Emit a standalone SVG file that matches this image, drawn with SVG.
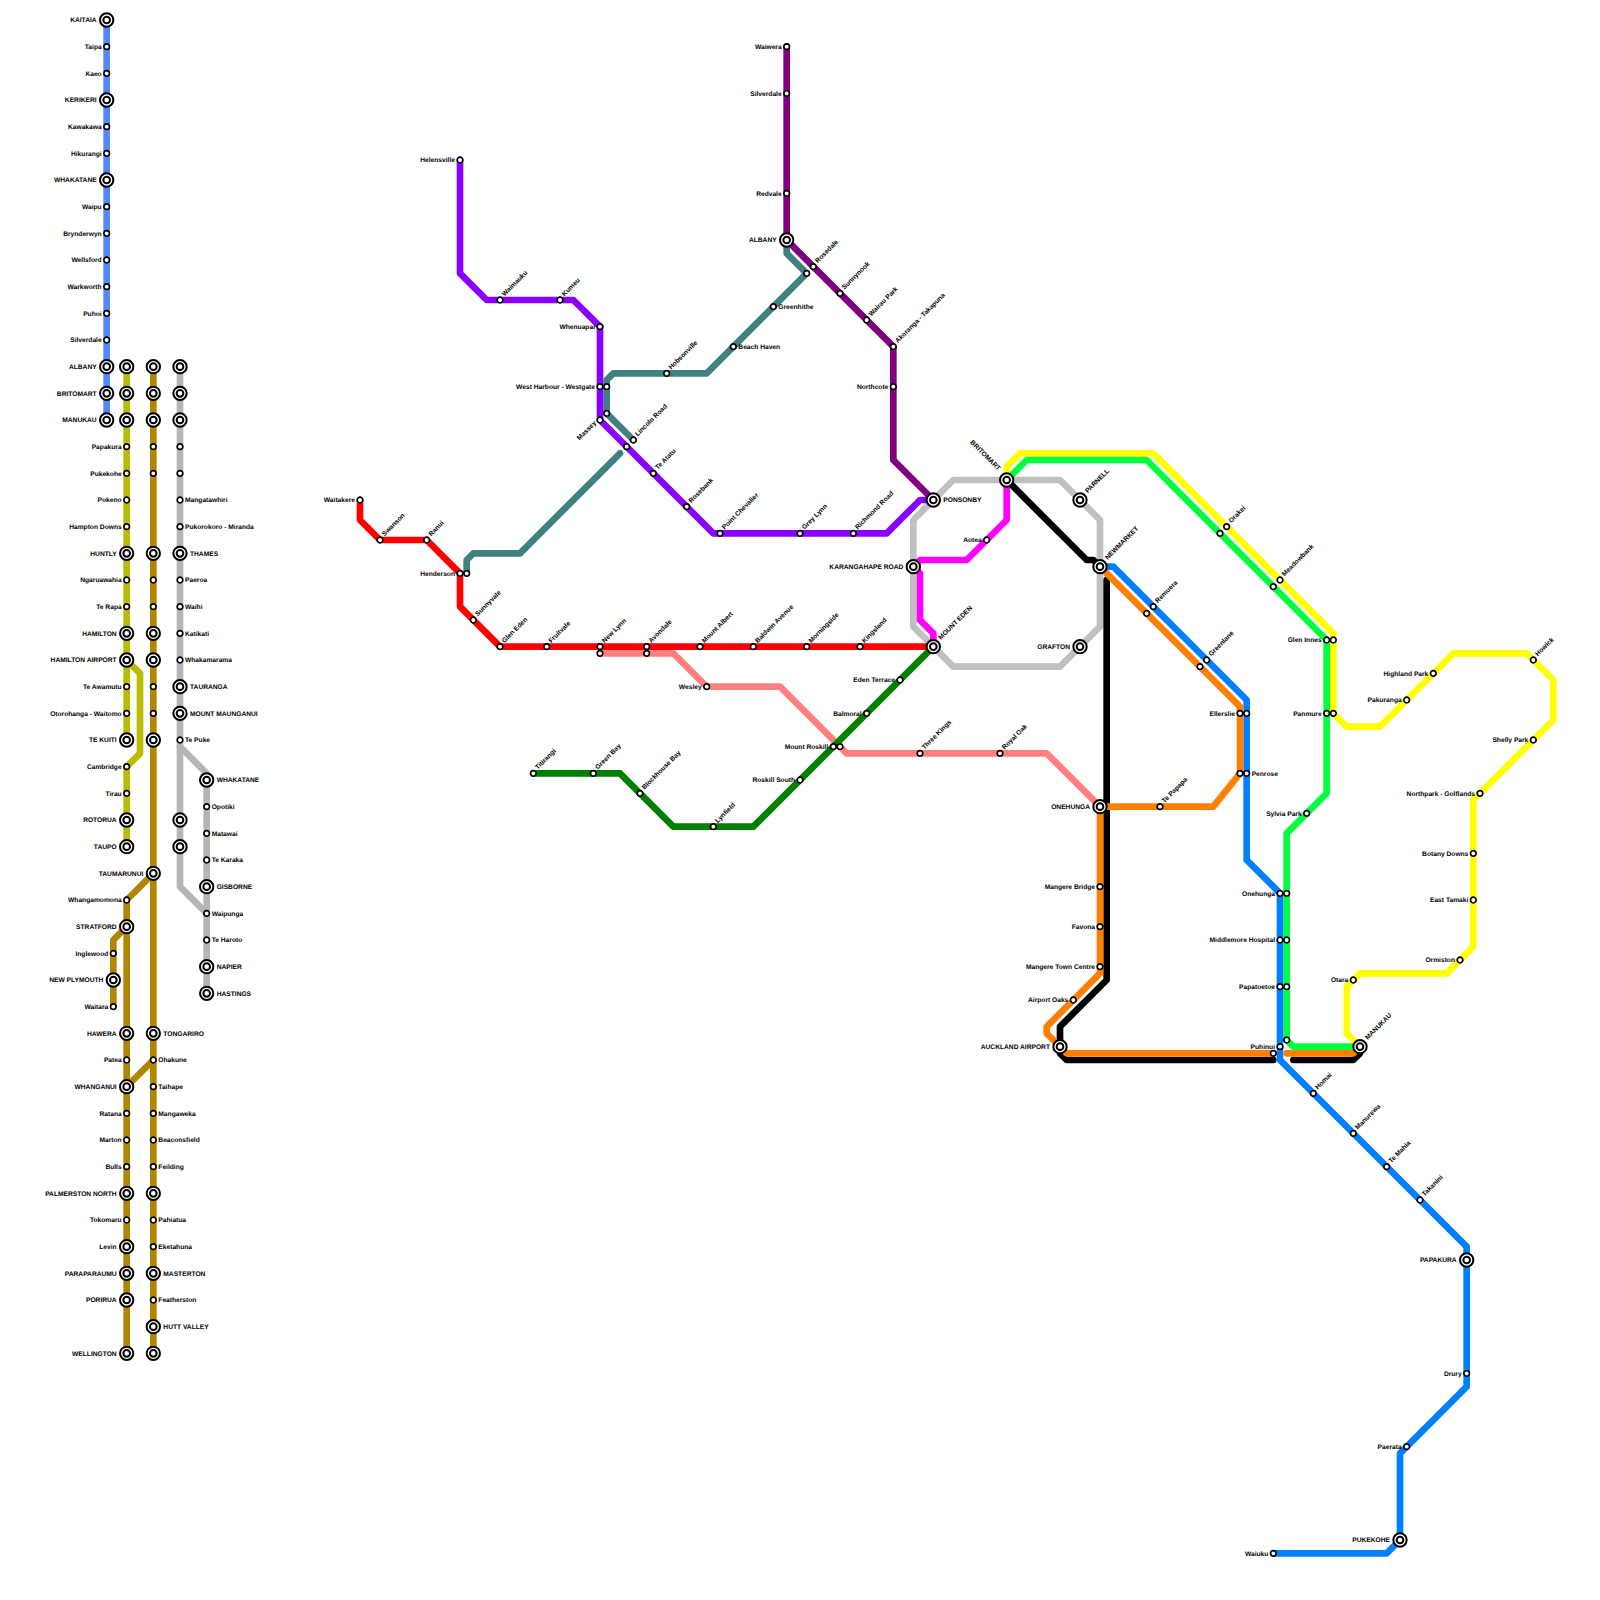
<svg xmlns="http://www.w3.org/2000/svg" xmlns:xlink="http://www.w3.org/1999/xlink" width="1600" height="1600" viewBox="0 0 1600 1600">
<style>
text{font-family:"Liberation Sans",Arial,sans-serif;font-weight:700;font-size:6.67px;fill:#000;text-rendering:geometricPrecision}
.e{text-anchor:end}
.ln{fill:none;stroke-width:6.67;stroke-linejoin:round;stroke-linecap:round}
.gray{stroke:#c0c0c0}.gr2{stroke:#b5b5b5}.blue{stroke:#5588ff}.olive{stroke:#bbbb00}.gold{stroke:#b38600}
.viol{stroke:#8800ff}.teal{stroke:#408080}.red{stroke:#ff0000}.pink{stroke:#ff8080}.green{stroke:#008000}
.dpur{stroke:#800080}.mag{stroke:#ff00ff}.black{stroke:#000}.or{stroke:#ff8000}.sky{stroke:#0080ff}.lime{stroke:#00ff40}.yel{stroke:#ffff00}
</style>
<defs>
<g id="B"><circle r="6.67" fill="#fff" stroke="#000" stroke-width="2"/><circle r="3.33" fill="#fff" stroke="#000" stroke-width="2"/></g>
<circle id="s" r="2.8" fill="#fff" stroke="#000" stroke-width="1.7"/>
</defs>
<g id="connectors">
<path class="ln blue" d="M106.67 20V420"/>
<path class="ln olive" d="M126.67 366.67V740"/>
<path class="ln olive" d="M126.67 660L140 673.33V753.33L126.67 766.67V846.67"/>
<path class="ln gold" d="M153.33 366.67V1353.33"/>
<path class="ln gold" d="M153.33 873.33L126.67 900V1353.33"/>
<path class="ln gold" d="M126.67 926.67L113.33 940V1006.67"/>
<path class="ln gold" d="M126.67 1086.67L153.33 1060"/>
<path class="ln gr2" d="M180 366.67V886.67L206.67 913.33V993.33"/>
<path class="ln gr2" d="M180 746.67L206.67 773.33V913.33"/>
<path class="ln gray" d="M933.33 500L953.33 480H1060L1100 520V626.67L1060 666.67H953.33L913.33 626.67V520Z"/>
<path class="ln teal" d="M786.67 240V253.33L806.67 273.33L706.67 373.33H613.33L606.67 380V413.33L633.33 440"/>
<path class="ln teal" d="M620 453.33L520 553.33H473.33L466.67 560V573.33"/>
<path class="ln viol" d="M460 160V273.33L486.67 300H573.33L600 326.67V420L713.33 533.33H886.67L920 500H933.33"/>
<path class="ln dpur" d="M786.67 46.67V240L893.33 346.67V460L933.33 500"/>
<path class="ln pink" d="M600 653.33H673.33L706.67 686.67H780L846.67 753.33H1046.67L1100 806.67"/>
<path class="ln red" d="M360 500V520L380 540H426.67L460 573.33V606.67L500 646.67H933.33"/>
<path class="ln green" d="M533.33 773.33H620L673.33 826.67H753.33L933.33 646.67"/>
<path class="ln mag" d="M1006.67 480V520L966.67 560H920L913.33 566.67L920 573.33V620L933.33 633.33V646.67"/>
<path class="ln yel" d="M1006.67 480V466.67L1020 453.33H1153.33L1333.33 633.33V713.33L1346.67 726.67H1380L1453.33 653.33H1526.67L1553.33 680V720L1473.33 800V946.67L1446.67 973.33H1360L1346.67 986.67V1033.33L1360 1046.67"/>
<path class="ln lime" d="M1006.67 480L1026.67 460H1146.67L1326.67 640V793.33L1286.67 833.33V1040L1293.33 1046.67H1360"/>
<path class="ln black" d="M1006.67 480L1086.67 560H1093.33L1100 566.67"/>
<path class="ln black" d="M1106.67 580V980L1060 1026.67V1053.33L1066.67 1060H1273.33"/>
<path class="ln black" d="M1293.33 1060H1353.33L1360 1053.33V1046.67"/>
<path class="ln sky" d="M1100 566.67H1113.33L1246.67 700V860L1280 893.33V1060L1466.67 1246.67V1386.67L1400 1453.33V1540L1386.67 1553.33H1273.33"/>
<path class="ln or" d="M1100 566.67L1240 706.67V773.33L1213.33 806.67H1100V973.33L1046.67 1026.67V1033.33L1060 1046.67L1066.67 1053.33H1273.33"/>
<path class="ln or" d="M1286.67 1053.33H1353.33L1360 1046.67"/>
</g>
<g id="nodes">
<g id="a01"><use href="#B" x="106.67" y="20"/><text class="e" x="96.67" y="22.3">KAITAIA</text></g>
<g id="a02"><use href="#s" x="106.67" y="46.67"/><text class="e" x="101.67" y="49">Taipa</text></g>
<g id="a03"><use href="#s" x="106.67" y="73.33"/><text class="e" x="101.67" y="75.6">Kaeo</text></g>
<g id="a04"><use href="#B" x="106.67" y="100"/><text class="e" x="96.67" y="102.3">KERIKERI</text></g>
<g id="a05"><use href="#s" x="106.67" y="126.67"/><text class="e" x="101.67" y="129">Kawakawa</text></g>
<g id="a06"><use href="#s" x="106.67" y="153.33"/><text class="e" x="101.67" y="155.6">Hikurangi</text></g>
<g id="a07"><use href="#B" x="106.67" y="180"/><text class="e" x="96.67" y="182.3">WHAKATANE</text></g>
<g id="a08"><use href="#s" x="106.67" y="206.67"/><text class="e" x="101.67" y="209">Waipu</text></g>
<g id="a09"><use href="#s" x="106.67" y="233.33"/><text class="e" x="101.67" y="235.6">Brynderwyn</text></g>
<g id="a10"><use href="#s" x="106.67" y="260"/><text class="e" x="101.67" y="262.3">Wellsford</text></g>
<g id="a11"><use href="#s" x="106.67" y="286.67"/><text class="e" x="101.67" y="289">Warkworth</text></g>
<g id="a12"><use href="#s" x="106.67" y="313.33"/><text class="e" x="101.67" y="315.6">Puhoi</text></g>
<g id="a13"><use href="#s" x="106.67" y="340"/><text class="e" x="101.67" y="342.3">Silverdale</text></g>
<g id="a14"><use href="#B" x="106.67" y="366.67"/><text class="e" x="96.67" y="369">ALBANY</text></g>
<g id="a15"><use href="#B" x="106.67" y="393.33"/><text class="e" x="96.67" y="395.6">BRITOMART</text></g>
<g id="a16"><use href="#B" x="106.67" y="420"/><text class="e" x="96.67" y="422.3">MANUKAU</text></g>

<g id="b01"><use href="#B" x="126.67" y="366.67"/></g>
<g id="b02"><use href="#B" x="126.67" y="393.33"/></g>
<g id="b03"><use href="#B" x="126.67" y="420"/></g>
<g id="b04"><use href="#s" x="126.67" y="446.67"/><text class="e" x="121.67" y="449">Papakura</text></g>
<g id="b05"><use href="#s" x="126.67" y="473.33"/><text class="e" x="121.67" y="475.6">Pukekohe</text></g>
<g id="b06"><use href="#s" x="126.67" y="500"/><text class="e" x="121.67" y="502.3">Pokeno</text></g>
<g id="b07"><use href="#s" x="126.67" y="526.67"/><text class="e" x="121.67" y="529">Hampton Downs</text></g>
<g id="b08"><use href="#B" x="126.67" y="553.33"/><text class="e" x="116.67" y="555.6">HUNTLY</text></g>
<g id="b09"><use href="#s" x="126.67" y="580"/><text class="e" x="121.67" y="582.3">Ngaruawahia</text></g>
<g id="b10"><use href="#s" x="126.67" y="606.67"/><text class="e" x="121.67" y="609">Te Rapa</text></g>
<g id="b11"><use href="#B" x="126.67" y="633.33"/><text class="e" x="116.67" y="635.6">HAMILTON</text></g>
<g id="b12"><use href="#B" x="126.67" y="660"/><text class="e" x="116.67" y="662.3">HAMILTON AIRPORT</text></g>
<g id="b13"><use href="#s" x="126.67" y="686.67"/><text class="e" x="121.67" y="689">Te Awamutu</text></g>
<g id="b14"><use href="#s" x="126.67" y="713.33"/><text class="e" x="121.67" y="715.6">Otorohanga - Waitomo</text></g>
<g id="b15"><use href="#B" x="126.67" y="740"/><text class="e" x="116.67" y="742.3">TE KUITI</text></g>
<g id="b16"><use href="#s" x="126.67" y="766.67"/><text class="e" x="121.67" y="769">Cambridge</text></g>
<g id="b17"><use href="#s" x="126.67" y="793.33"/><text class="e" x="121.67" y="795.6">Tirau</text></g>
<g id="b18"><use href="#B" x="126.67" y="820"/><text class="e" x="116.67" y="822.3">ROTORUA</text></g>
<g id="b19"><use href="#B" x="126.67" y="846.67"/><text class="e" x="116.67" y="849">TAUPO</text></g>

<g id="c01"><use href="#B" x="153.33" y="366.67"/></g>
<g id="c02"><use href="#B" x="153.33" y="393.33"/></g>
<g id="c03"><use href="#B" x="153.33" y="420"/></g>
<g id="c04"><use href="#s" x="153.33" y="446.67"/></g>
<g id="c05"><use href="#s" x="153.33" y="473.33"/></g>
<g id="c06"><use href="#B" x="153.33" y="553.33"/></g>
<g id="c07"><use href="#s" x="153.33" y="580"/></g>
<g id="c08"><use href="#s" x="153.33" y="606.67"/></g>
<g id="c09"><use href="#B" x="153.33" y="633.33"/></g>
<g id="c10"><use href="#B" x="153.33" y="660"/></g>
<g id="c11"><use href="#s" x="153.33" y="686.67"/></g>
<g id="c12"><use href="#s" x="153.33" y="713.33"/></g>
<g id="c13"><use href="#B" x="153.33" y="740"/></g>
<g id="c14"><use href="#B" x="153.33" y="873.33"/><text class="e" x="143.33" y="875.6">TAUMARUNUI</text></g>
<g id="c15"><use href="#B" x="153.33" y="1033.33"/><text x="163.33" y="1035.6">TONGARIRO</text></g>
<g id="c16"><use href="#s" x="153.33" y="1060"/><text x="158.33" y="1062.3">Ohakune</text></g>
<g id="c17"><use href="#s" x="153.33" y="1086.67"/><text x="158.33" y="1089">Taihape</text></g>
<g id="c18"><use href="#s" x="153.33" y="1113.33"/><text x="158.33" y="1115.6">Mangaweka</text></g>
<g id="c19"><use href="#s" x="153.33" y="1140"/><text x="158.33" y="1142.3">Beaconsfield</text></g>
<g id="c20"><use href="#s" x="153.33" y="1166.67"/><text x="158.33" y="1169">Feilding</text></g>
<g id="c21"><use href="#B" x="153.33" y="1193.33"/></g>
<g id="c22"><use href="#s" x="153.33" y="1220"/><text x="158.33" y="1222.3">Pahiatua</text></g>
<g id="c23"><use href="#s" x="153.33" y="1246.67"/><text x="158.33" y="1249">Eketahuna</text></g>
<g id="c24"><use href="#B" x="153.33" y="1273.33"/><text x="163.33" y="1275.6">MASTERTON</text></g>
<g id="c25"><use href="#s" x="153.33" y="1300"/><text x="158.33" y="1302.3">Featherston</text></g>
<g id="c26"><use href="#B" x="153.33" y="1326.67"/><text x="163.33" y="1329">HUTT VALLEY</text></g>
<g id="c27"><use href="#B" x="153.33" y="1353.33"/></g>

<g id="w01"><use href="#s" x="126.67" y="900"/><text class="e" x="121.67" y="902.3">Whangamomona</text></g>
<g id="w02"><use href="#B" x="126.67" y="926.67"/><text class="e" x="116.67" y="929">STRATFORD</text></g>
<g id="w03"><use href="#s" x="113.33" y="953.33"/><text class="e" x="108.33" y="955.6">Inglewood</text></g>
<g id="w04"><use href="#B" x="113.33" y="980"/><text class="e" x="103.33" y="982.3">NEW PLYMOUTH</text></g>
<g id="w05"><use href="#s" x="113.33" y="1006.67"/><text class="e" x="108.33" y="1009">Waitara</text></g>
<g id="w06"><use href="#B" x="126.67" y="1033.33"/><text class="e" x="116.67" y="1035.6">HAWERA</text></g>
<g id="w07"><use href="#s" x="126.67" y="1060"/><text class="e" x="121.67" y="1062.3">Patea</text></g>
<g id="w08"><use href="#B" x="126.67" y="1086.67"/><text class="e" x="116.67" y="1089">WHANGANUI</text></g>
<g id="w09"><use href="#s" x="126.67" y="1113.33"/><text class="e" x="121.67" y="1115.6">Ratana</text></g>
<g id="w10"><use href="#s" x="126.67" y="1140"/><text class="e" x="121.67" y="1142.3">Marton</text></g>
<g id="w11"><use href="#s" x="126.67" y="1166.67"/><text class="e" x="121.67" y="1169">Bulls</text></g>
<g id="w12"><use href="#B" x="126.67" y="1193.33"/><text class="e" x="116.67" y="1195.6">PALMERSTON NORTH</text></g>
<g id="w13"><use href="#s" x="126.67" y="1220"/><text class="e" x="121.67" y="1222.3">Tokomaru</text></g>
<g id="w14"><use href="#B" x="126.67" y="1246.67"/><text class="e" x="116.67" y="1249">Levin</text></g>
<g id="w15"><use href="#B" x="126.67" y="1273.33"/><text class="e" x="116.67" y="1275.6">PARAPARAUMU</text></g>
<g id="w16"><use href="#B" x="126.67" y="1300"/><text class="e" x="116.67" y="1302.3">PORIRUA</text></g>
<g id="w17"><use href="#B" x="126.67" y="1353.33"/><text class="e" x="116.67" y="1355.6">WELLINGTON</text></g>

<g id="d01"><use href="#B" x="180" y="366.67"/></g>
<g id="d02"><use href="#B" x="180" y="393.33"/></g>
<g id="d03"><use href="#B" x="180" y="420"/></g>
<g id="d04"><use href="#s" x="180" y="446.67"/></g>
<g id="d05"><use href="#s" x="180" y="473.33"/></g>
<g id="d06"><use href="#s" x="180" y="500"/><text x="185" y="502.3">Mangatawhiri</text></g>
<g id="d07"><use href="#s" x="180" y="526.67"/><text x="185" y="529">Pukorokoro - Miranda</text></g>
<g id="d08"><use href="#B" x="180" y="553.33"/><text x="190" y="555.6">THAMES</text></g>
<g id="d09"><use href="#s" x="180" y="580"/><text x="185" y="582.3">Paeroa</text></g>
<g id="d10"><use href="#s" x="180" y="606.67"/><text x="185" y="609">Waihi</text></g>
<g id="d11"><use href="#s" x="180" y="633.33"/><text x="185" y="635.6">Katikati</text></g>
<g id="d12"><use href="#s" x="180" y="660"/><text x="185" y="662.3">Whakamarama</text></g>
<g id="d13"><use href="#B" x="180" y="686.67"/><text x="190" y="689">TAURANGA</text></g>
<g id="d14"><use href="#B" x="180" y="713.33"/><text x="190" y="715.6">MOUNT MAUNGANUI</text></g>
<g id="d15"><use href="#s" x="180" y="740"/><text x="185" y="742.3">Te Puke</text></g>
<g id="d16"><use href="#B" x="180" y="820"/></g>
<g id="d17"><use href="#B" x="180" y="846.67"/></g>
<g id="e01"><use href="#B" x="206.67" y="780"/><text x="216.67" y="782.3">WHAKATANE</text></g>
<g id="e02"><use href="#s" x="206.67" y="806.67"/><text x="211.67" y="809">Opotiki</text></g>
<g id="e03"><use href="#s" x="206.67" y="833.33"/><text x="211.67" y="835.6">Matawai</text></g>
<g id="e04"><use href="#s" x="206.67" y="860"/><text x="211.67" y="862.3">Te Karaka</text></g>
<g id="e05"><use href="#B" x="206.67" y="886.67"/><text x="216.67" y="889">GISBORNE</text></g>
<g id="e06"><use href="#s" x="206.67" y="913.33"/><text x="211.67" y="915.6">Waipunga</text></g>
<g id="e07"><use href="#s" x="206.67" y="940"/><text x="211.67" y="942.3">Te Haroto</text></g>
<g id="e08"><use href="#B" x="206.67" y="966.67"/><text x="216.67" y="969">NAPIER</text></g>
<g id="e09"><use href="#B" x="206.67" y="993.33"/><text x="216.67" y="995.6">HASTINGS</text></g>

<g id="v01"><use href="#s" x="460" y="160"/><text class="e" x="455" y="162.3">Helensville</text></g>
<g id="v02"><use href="#s" x="500" y="300"/><text transform="rotate(-45 504.5 296.5)" x="504.5" y="296.5">Waimauku</text></g>
<g id="v03"><use href="#s" x="560" y="300"/><text transform="rotate(-45 564.5 296.5)" x="564.5" y="296.5">Kumeu</text></g>
<g id="v04"><use href="#s" x="600" y="326.67"/><text class="e" x="595" y="329">Whenuapai</text></g>
<g id="v05"><use href="#s" x="600" y="386.67"/><text class="e" x="595" y="389">West Harbour - Westgate</text></g>
<g id="v05b"><use href="#s" x="606.67" y="386.67"/></g>
<g id="v06b"><use href="#s" x="606.67" y="413.33"/></g>
<g id="v06"><use href="#s" x="600" y="420"/><text class="e" transform="rotate(-45 596.5 423.5)" x="596.5" y="423.5">Massey</text></g>
<g id="v07"><use href="#s" x="626.67" y="446.67"/></g>
<g id="v07b"><use href="#s" x="633.33" y="440"/><text transform="rotate(-45 637.8 436.5)" x="637.8" y="436.5">Lincoln Road</text></g>
<g id="v08"><use href="#s" x="653.33" y="473.33"/><text transform="rotate(-45 657.8 469.8)" x="657.8" y="469.8">Te Atatu</text></g>
<g id="v09"><use href="#s" x="686.67" y="506.67"/><text transform="rotate(-45 691.2 503.2)" x="691.2" y="503.2">Rosebank</text></g>
<g id="v10"><use href="#s" x="720" y="533.33"/><text transform="rotate(-45 724.5 529.8)" x="724.5" y="529.8">Point Chevalier</text></g>
<g id="v11"><use href="#s" x="800" y="533.33"/><text transform="rotate(-45 804.5 529.8)" x="804.5" y="529.8">Grey Lynn</text></g>
<g id="v12"><use href="#s" x="853.33" y="533.33"/><text transform="rotate(-45 857.8 529.8)" x="857.8" y="529.8">Richmond Road</text></g>

<g id="t01"><use href="#s" x="666.67" y="373.33"/><text transform="rotate(-45 671.2 369.8)" x="671.2" y="369.8">Hobsonville</text></g>
<g id="t02"><use href="#s" x="733.33" y="346.67"/><text x="738.33" y="349">Beach Haven</text></g>
<g id="t03"><use href="#s" x="773.33" y="306.67"/><text x="778.33" y="309">Greenhithe</text></g>
<g id="t04"><use href="#s" x="806.67" y="273.33"/></g>
<g id="t05"><use href="#s" x="460" y="573.33"/><text class="e" x="455" y="575.6">Henderson</text></g>
<g id="t06"><use href="#s" x="466.67" y="573.33"/></g>

<g id="p01"><use href="#s" x="786.67" y="46.67"/><text class="e" x="781.67" y="49">Waiwera</text></g>
<g id="p02"><use href="#s" x="786.67" y="93.33"/><text class="e" x="781.67" y="95.6">Silverdale</text></g>
<g id="p03"><use href="#s" x="786.67" y="193.33"/><text class="e" x="781.67" y="195.6">Redvale</text></g>
<g id="p04"><use href="#B" x="786.67" y="240"/><text class="e" x="776.67" y="242.3">ALBANY</text></g>
<g id="p05"><use href="#s" x="813.33" y="266.67"/><text transform="rotate(-45 817.8 263.2)" x="817.8" y="263.2">Rosedale</text></g>
<g id="p06"><use href="#s" x="840" y="293.33"/><text transform="rotate(-45 844.5 289.8)" x="844.5" y="289.8">Sunnynook</text></g>
<g id="p07"><use href="#s" x="866.67" y="320"/><text transform="rotate(-45 871.2 316.5)" x="871.2" y="316.5">Wairau Park</text></g>
<g id="p08"><use href="#s" x="893.33" y="346.67"/><text transform="rotate(-45 897.8 343.2)" x="897.8" y="343.2">Akoranga - Takapuna</text></g>
<g id="p09"><use href="#s" x="893.33" y="386.67"/><text class="e" x="888.33" y="389">Northcote</text></g>

<g id="r01"><use href="#s" x="360" y="500"/><text class="e" x="355" y="502.3">Waitakere</text></g>
<g id="r02"><use href="#s" x="380" y="540"/><text transform="rotate(-45 384.5 536.5)" x="384.5" y="536.5">Swanson</text></g>
<g id="r03"><use href="#s" x="426.67" y="540"/><text transform="rotate(-45 431.2 536.5)" x="431.2" y="536.5">Ranui</text></g>
<g id="r04"><use href="#s" x="473.33" y="620"/><text transform="rotate(-45 477.8 616.5)" x="477.8" y="616.5">Sunnyvale</text></g>
<g id="r05"><use href="#s" x="500" y="646.67"/><text transform="rotate(-45 504.5 643.2)" x="504.5" y="643.2">Glen Eden</text></g>
<g id="r06"><use href="#s" x="546.67" y="646.67"/><text transform="rotate(-45 551.2 643.2)" x="551.2" y="643.2">Fruitvale</text></g>
<g id="r07"><use href="#s" x="600" y="646.67"/><text transform="rotate(-45 604.5 643.2)" x="604.5" y="643.2">New Lynn</text></g>
<g id="r07b"><use href="#s" x="600" y="653.33"/></g>
<g id="r08"><use href="#s" x="646.67" y="646.67"/><text transform="rotate(-45 651.2 643.2)" x="651.2" y="643.2">Avondale</text></g>
<g id="r08b"><use href="#s" x="646.67" y="653.33"/></g>
<g id="r09"><use href="#s" x="700" y="646.67"/><text transform="rotate(-45 704.5 643.2)" x="704.5" y="643.2">Mount Albert</text></g>
<g id="r10"><use href="#s" x="753.33" y="646.67"/><text transform="rotate(-45 757.8 643.2)" x="757.8" y="643.2">Baldwin Avenue</text></g>
<g id="r11"><use href="#s" x="806.67" y="646.67"/><text transform="rotate(-45 811.2 643.2)" x="811.2" y="643.2">Morningside</text></g>
<g id="r12"><use href="#s" x="860" y="646.67"/><text transform="rotate(-45 864.5 643.2)" x="864.5" y="643.2">Kingsland</text></g>

<g id="k01"><use href="#s" x="706.67" y="686.67"/><text class="e" x="701.67" y="689">Wesley</text></g>
<g id="k02"><use href="#s" x="833.33" y="746.67"/><text class="e" x="828.33" y="749">Mount Roskill</text></g>
<g id="k03"><use href="#s" x="840" y="746.67"/></g>
<g id="k04"><use href="#s" x="920" y="753.33"/><text transform="rotate(-45 924.5 749.8)" x="924.5" y="749.8">Three Kings</text></g>
<g id="k05"><use href="#s" x="1000" y="753.33"/><text transform="rotate(-45 1004.5 749.8)" x="1004.5" y="749.8">Royal Oak</text></g>

<g id="g01"><use href="#s" x="533.33" y="773.33"/><text transform="rotate(-45 537.8 769.8)" x="537.8" y="769.8">Titirangi</text></g>
<g id="g02"><use href="#s" x="593.33" y="773.33"/><text transform="rotate(-45 597.8 769.8)" x="597.8" y="769.8">Green Bay</text></g>
<g id="g03"><use href="#s" x="640" y="793.33"/><text transform="rotate(-45 644.5 789.8)" x="644.5" y="789.8">Blockhouse Bay</text></g>
<g id="g04"><use href="#s" x="713.33" y="826.67"/><text transform="rotate(-45 717.8 823.2)" x="717.8" y="823.2">Lynfield</text></g>
<g id="g05"><use href="#s" x="800" y="780"/><text class="e" x="795" y="782.3">Roskill South</text></g>
<g id="g06"><use href="#s" x="866.67" y="713.33"/><text class="e" x="861.67" y="715.6">Balmoral</text></g>
<g id="g07"><use href="#s" x="900" y="680"/><text class="e" x="895" y="682.3">Eden Terrace</text></g>

<g id="m01"><use href="#B" x="933.33" y="500"/><text x="943.33" y="502.3">PONSONBY</text></g>
<g id="m02"><use href="#B" x="1006.67" y="480"/><text class="e" transform="rotate(45 998 471)" x="998" y="471">BRITOMART</text></g>
<g id="m03"><use href="#B" x="913.33" y="566.67"/><text class="e" x="903.33" y="569">KARANGAHAPE ROAD</text></g>
<g id="m04"><use href="#B" x="933.33" y="646.67"/><text transform="rotate(-45 941 640)" x="941" y="640">MOUNT EDEN</text></g>
<g id="m05"><use href="#s" x="986.67" y="540"/><text class="e" x="981.67" y="542.3">Aotea</text></g>
<g id="m06"><use href="#B" x="1080" y="500"/><text transform="rotate(-45 1087.7 493.3)" x="1087.7" y="493.3">PARNELL</text></g>
<g id="m07"><use href="#B" x="1100" y="566.67"/><text transform="rotate(-45 1107.7 560)" x="1107.7" y="560">NEWMARKET</text></g>
<g id="m08"><use href="#B" x="1080" y="646.67"/><text class="e" x="1070" y="649">GRAFTON</text></g>

<g id="o01"><use href="#s" x="1146.67" y="613.33"/></g>
<g id="o02"><use href="#s" x="1153.33" y="606.67"/><text transform="rotate(-45 1157.8 603.2)" x="1157.8" y="603.2">Remuera</text></g>
<g id="o03"><use href="#s" x="1200" y="666.67"/></g>
<g id="o04"><use href="#s" x="1206.67" y="660"/><text transform="rotate(-45 1211.2 656.5)" x="1211.2" y="656.5">Greenlane</text></g>
<g id="o05"><use href="#s" x="1240" y="713.33"/><text class="e" x="1235" y="715.6">Ellerslie</text></g>
<g id="o06"><use href="#s" x="1246.67" y="713.33"/></g>
<g id="o07"><use href="#s" x="1240" y="773.33"/></g>
<g id="o08"><use href="#s" x="1246.67" y="773.33"/><text x="1251.67" y="775.6">Penrose</text></g>
<g id="o09"><use href="#s" x="1160" y="806.67"/><text transform="rotate(-45 1164.5 803.2)" x="1164.5" y="803.2">Te Papapa</text></g>
<g id="o10"><use href="#B" x="1100" y="806.67"/><text class="e" x="1090" y="809">ONEHUNGA</text></g>
<g id="o11"><use href="#s" x="1100" y="886.67"/><text class="e" x="1095" y="889">Mangere Bridge</text></g>
<g id="o12"><use href="#s" x="1100" y="926.67"/><text class="e" x="1095" y="929">Favona</text></g>
<g id="o13"><use href="#s" x="1100" y="966.67"/><text class="e" x="1095" y="969">Mangere Town Centre</text></g>
<g id="o14"><use href="#s" x="1073.33" y="1000"/><text class="e" x="1068.33" y="1002.3">Airport Oaks</text></g>
<g id="o15"><use href="#B" x="1060" y="1046.67"/><text class="e" x="1050" y="1049">AUCKLAND AIRPORT</text></g>
<g id="o16"><use href="#s" x="1273.33" y="1053.33"/></g>

<g id="h01"><use href="#s" x="1280" y="893.33"/><text class="e" x="1275" y="895.6">Onehunga</text></g>
<g id="h02"><use href="#s" x="1286.67" y="893.33"/></g>
<g id="h03"><use href="#s" x="1280" y="940"/><text class="e" x="1275" y="942.3">Middlemore Hospital</text></g>
<g id="h04"><use href="#s" x="1286.67" y="940"/></g>
<g id="h05"><use href="#s" x="1280" y="986.67"/><text class="e" x="1275" y="989">Papatoetoe</text></g>
<g id="h06"><use href="#s" x="1286.67" y="986.67"/></g>
<g id="h07"><use href="#s" x="1286.67" y="1040"/></g>
<g id="h08"><use href="#s" x="1280" y="1046.67"/><text class="e" x="1275" y="1049">Puhinui</text></g>
<g id="h09"><use href="#s" x="1313.33" y="1093.33"/><text transform="rotate(-45 1317.8 1089.8)" x="1317.8" y="1089.8">Homai</text></g>
<g id="h10"><use href="#s" x="1353.33" y="1133.33"/><text transform="rotate(-45 1357.8 1129.8)" x="1357.8" y="1129.8">Manurewa</text></g>
<g id="h11"><use href="#s" x="1386.67" y="1166.67"/><text transform="rotate(-45 1391.2 1163.2)" x="1391.2" y="1163.2">Te Mahia</text></g>
<g id="h12"><use href="#s" x="1420" y="1200"/><text transform="rotate(-45 1424.5 1196.5)" x="1424.5" y="1196.5">Takanini</text></g>
<g id="h13"><use href="#B" x="1466.67" y="1260"/><text class="e" x="1456.67" y="1262.3">PAPAKURA</text></g>
<g id="h14"><use href="#s" x="1466.67" y="1373.33"/><text class="e" x="1461.67" y="1375.6">Drury</text></g>
<g id="h15"><use href="#s" x="1406.67" y="1446.67"/><text class="e" x="1401.67" y="1449">Paerata</text></g>
<g id="h16"><use href="#B" x="1400" y="1540"/><text class="e" x="1390" y="1542.3">PUKEKOHE</text></g>
<g id="h17"><use href="#s" x="1273.33" y="1553.33"/><text class="e" x="1268.33" y="1555.6">Waiuku</text></g>

<g id="y01"><use href="#s" x="1220" y="533.33"/></g>
<g id="y02"><use href="#s" x="1226.67" y="526.67"/><text transform="rotate(-45 1231.2 523.2)" x="1231.2" y="523.2">Orakei</text></g>
<g id="y03"><use href="#s" x="1273.33" y="586.67"/></g>
<g id="y04"><use href="#s" x="1280" y="580"/><text transform="rotate(-45 1284.5 576.5)" x="1284.5" y="576.5">Meadowbank</text></g>
<g id="y05"><use href="#s" x="1326.67" y="640"/><text class="e" x="1321.67" y="642.3">Glen Innes</text></g>
<g id="y06"><use href="#s" x="1333.33" y="640"/></g>
<g id="y07"><use href="#s" x="1326.67" y="713.33"/><text class="e" x="1321.67" y="715.6">Panmure</text></g>
<g id="y08"><use href="#s" x="1333.33" y="713.33"/></g>
<g id="y09"><use href="#s" x="1306.67" y="813.33"/><text class="e" x="1301.67" y="815.6">Sylvia Park</text></g>
<g id="y10"><use href="#s" x="1406.67" y="700"/><text class="e" x="1401.67" y="702.3">Pakuranga</text></g>
<g id="y11"><use href="#s" x="1433.33" y="673.33"/><text class="e" x="1428.33" y="675.6">Highland Park</text></g>
<g id="y12"><use href="#s" x="1533.33" y="660"/><text transform="rotate(-45 1537.8 656.5)" x="1537.8" y="656.5">Howick</text></g>
<g id="y13"><use href="#s" x="1533.33" y="740"/><text class="e" x="1528.33" y="742.3">Shelly Park</text></g>
<g id="y14"><use href="#s" x="1480" y="793.33"/><text class="e" x="1475" y="795.6">Northpark - Golflands</text></g>
<g id="y15"><use href="#s" x="1473.33" y="853.33"/><text class="e" x="1468.33" y="855.6">Botany Downs</text></g>
<g id="y16"><use href="#s" x="1473.33" y="900"/><text class="e" x="1468.33" y="902.3">East Tamaki</text></g>
<g id="y17"><use href="#s" x="1460" y="960"/><text class="e" x="1455" y="962.3">Ormiston</text></g>
<g id="y18"><use href="#s" x="1353.33" y="980"/><text class="e" x="1348.33" y="982.3">Otara</text></g>
<g id="y19"><use href="#B" x="1360" y="1046.67"/><text transform="rotate(-45 1367.7 1040)" x="1367.7" y="1040">MANUKAU</text></g>
</g>
</svg>
